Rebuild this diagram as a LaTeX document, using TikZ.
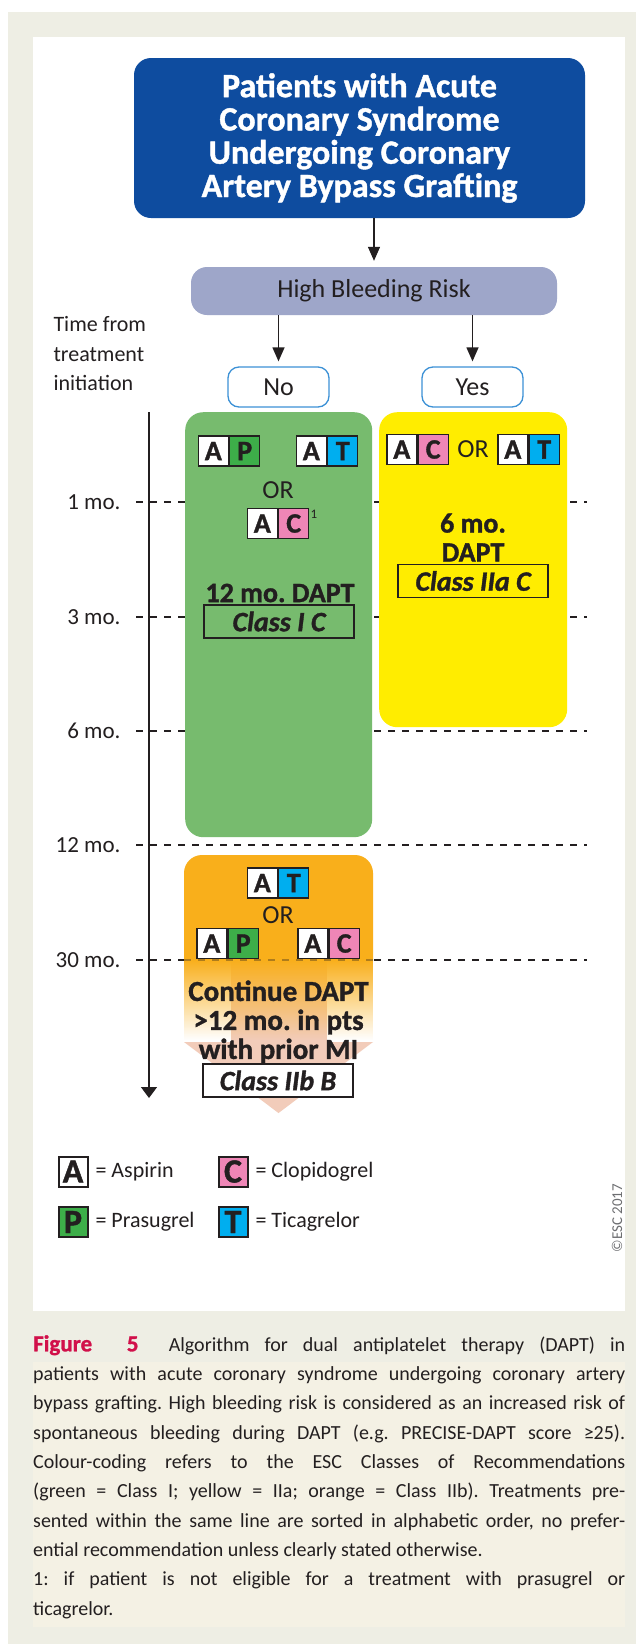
\documentclass[tikz,border=0pt]{standalone}
\usepackage{fontspec}
\setmainfont{Carlito}[BoldFeatures={FakeBold=1.2}, BoldItalicFeatures={FakeBold=1.2}]
\usetikzlibrary{arrows.meta,fadings}
\definecolor{bgbeige}{HTML}{EEEEE4}
\definecolor{capband}{HTML}{F4F1E4}
\definecolor{titleblue}{HTML}{0E4C9F}
\definecolor{hbrc}{HTML}{9EA6C9}
\definecolor{yesno}{HTML}{3C91D6}
\definecolor{classI}{HTML}{77BB6E}
\definecolor{classIIa}{HTML}{FFED00}
\definecolor{classIIb}{HTML}{F9AF1B}
\definecolor{salmon}{HTML}{F2CCBA}
\definecolor{pcol}{HTML}{3DAE49}
\definecolor{tcol}{HTML}{00AEEF}
\definecolor{ccol}{HTML}{EF86B6}
\definecolor{ink}{HTML}{231F20}
\definecolor{figred}{HTML}{D1104A}
\definecolor{esc}{HTML}{6D6E71}
\newcommand{\fsz}[2]{\fontsize{#1pt}{#2pt}\selectfont}
\tikzfading[name=orangefade, top color=transparent!0, bottom color=transparent!100]
\newcommand{\drugpair}[5]{%
  \node[cell, fill=white, anchor=east] (#1a) at (#2,#3) {A};
  \node[cell, fill=#5, anchor=west] (#1b) at (#2,#3) {#4};}
\frenchspacing
\begin{document}
\begin{tikzpicture}[x=1pt,y=-1pt,
  every node/.style={text=ink},
  cell/.style={draw=ink, line width=1.4pt, minimum width=30pt, minimum height=30pt, inner sep=0pt, font=\fsz{28}{28}\bfseries},
  legcell/.style={draw=ink, line width=2pt, minimum width=29pt, minimum height=30pt, inner sep=0pt, font=\fsz{34}{34}\bfseries},
  arr/.style={draw=ink, line width=1.3pt, -{Triangle[length=14pt,width=12pt]}},
  axisarr/.style={draw=ink, line width=1.3pt, -{Triangle[length=11pt,width=16pt]}},
  dashline/.style={draw=ink, line width=1.2pt, dash pattern=on 7pt off 7pt},
  classbox/.style={draw=ink, line width=1.3pt, minimum width=150pt, minimum height=33pt, inner sep=0pt, font=\fsz{28}{28}\bfseries\itshape},
  bigtxt/.style={font=\fsz{28}{29}\bfseries, align=center},
  ortxt/.style={font=\fsz{26}{26}},
  timelbl/.style={anchor=east, font=\fsz{23}{23}},
  legtxt/.style={anchor=west, font=\fsz{22}{22}},
  yesnobox/.style={draw=yesno, fill=white, line width=1.3pt, rounded corners=11pt, minimum width=101pt, minimum height=40pt, inner sep=0pt, font=\fsz{26}{26}}
]
\useasboundingbox (0,0) rectangle (636,1644);
% backgrounds
\fill[white] (0,0) rectangle (636,1644);
\fill[bgbeige] (8,12) rectangle (636,1644);
\fill[white] (33,37) rectangle (625,1311);
\fill[capband] (33,1362) rectangle (625,1627);

% title and decision
\node[fill=titleblue, rounded corners=17pt, minimum width=451pt, minimum height=160pt, inner sep=0pt,
      text=white, align=center, font=\fsz{34}{33.3}\bfseries] (title) at (359.5,138)
  {Patients with Acute\\Coronary Syndrome\\Undergoing Coronary\\Artery Bypass Grafting};
\node[fill=hbrc, rounded corners=16pt, minimum width=366pt, minimum height=48pt, inner sep=0pt,
      font=\fsz{26}{26}] (hbr) at (374,291) {High Bleeding Risk};
\node[yesnobox] (no) at (278.5,387) {No};
\node[yesnobox] (yes) at (472.5,387) {Yes};
\draw[arr, shorten >=6pt] (title.south -| hbr.north) -- (hbr.north);
\draw[arr, shorten >=5pt] (hbr.south -| no.north) -- (no.north);
\draw[arr, shorten >=5pt] (hbr.south -| yes.north) -- (yes.north);

% time axis
\node[anchor=west, align=left, font=\fsz{22}{29.5}] (timehdr) at (50,354) {Time from\\treatment\\initiation};
\foreach \lab/\yy/\nm in {1 mo./502/m1, 3 mo./617/m3, 6 mo./731/m6, 12 mo./845/m12, 30 mo./960/m30}{
  \node[timelbl] (\nm) at (124,\yy) {\lab};
  \coordinate (\nm l) at (136,\yy);
  \coordinate (\nm r) at (587,\yy);
  \draw[dashline] (\nm l) -- (\nm r);
}
\coordinate (axtop) at (149,412);
\coordinate (axbot) at (149,1098);
\draw[axisarr] (axtop) -- (axbot);

% green (Class I) column
\node[fill=classI, rounded corners=18pt, minimum width=187pt, minimum height=425pt, inner sep=0pt, anchor=north west] (green) at (185,412) {};
\drugpair{gAP}{229}{451}{P}{pcol}
\drugpair{gAT}{327}{451}{T}{tcol}
\node[ortxt] (gor) at (278,490) {OR};
\drugpair{gAC}{278}{523.5}{C}{ccol}
\node[font=\fsz{13}{13}] (sup1) at (314,514) {1};
\node[bigtxt] (g12) at (280,593) {12 mo. DAPT};
\node[classbox] (clsI) at (279,621.5) {Class I C};

% yellow (Class IIa) column
\node[fill=classIIa, rounded corners=18pt, minimum width=188pt, minimum height=315pt, inner sep=0pt, anchor=north west] (yellow) at (379,412) {};
\drugpair{yAC}{417.5}{449.5}{C}{ccol}
\node[ortxt] (yor) at (473,449) {OR};
\drugpair{yAT}{528.5}{449.5}{T}{tcol}
\node[bigtxt] (y6) at (473,537.5) {6 mo.\\DAPT};
\node[classbox] (clsIIa) at (473,581) {Class IIa C};

% orange (Class IIb) column with arrow
\fill[salmon] (231,918) rectangle (327,1043);
\fill[salmon] (184,1042) -- (373,1042) -- (278.5,1113) -- cycle;
\begin{scope}
  \clip (184,855) rectangle (373,960);
  \fill[classIIb, rounded corners=18pt] (184,855) rectangle (373,1000);
\end{scope}
\fill[classIIb, path fading=orangefade] (184,959.5) rectangle (373,1040);
\draw[dashline, opacity=0.35] (m30l -| 184,0) -- (m30r -| 373,0);
\drugpair{oAT}{278}{883}{T}{tcol}
\node[ortxt] (oor) at (278,915) {OR};
\drugpair{oAP}{227.5}{943.5}{P}{pcol}
\drugpair{oAC}{328.5}{943.5}{C}{ccol}
\node[bigtxt, font=\fsz{29}{29}\bfseries] (ocont) at (278.5,1022) {Continue DAPT\\>12 mo. in pts\\with prior MI};
\node[classbox, fill=white] (clsIIb) at (278,1080.5) {Class IIb B};

% legend
\node[legcell, fill=white] (lA) at (73,1171.5) {A};
\node[legtxt] (lAt) at (92,1172) {= Aspirin};
\node[legcell, fill=ccol] (lC) at (233,1171.5) {C};
\node[legtxt] (lCt) at (252,1172) {= Clopidogrel};
\node[legcell, fill=pcol] (lP) at (73,1222) {P};
\node[legtxt] (lPt) at (92,1222) {= Prasugrel};
\node[legcell, fill=tcol] (lT) at (233,1222) {T};
\node[legtxt] (lTt) at (252,1222) {= Ticagrelor};
\node[rotate=90, font=\fsz{15}{15}, text=esc] (copy) at (617,1218) {©ESC 2017};

% caption
\node[anchor=north west, text width=592pt, align=justify, inner sep=0pt, font=\fsz{20}{29.3}] (caption) at (33,1335)
{\noindent{\color{figred}\fsz{23}{29.3}\bfseries Figure\ \ 5}\ \ Algorithm for dual antiplatelet therapy (DAPT) in\linebreak
patients with acute coronary syndrome undergoing coronary artery\linebreak
bypass grafting. High bleeding risk is considered as an increased risk of\linebreak
spontaneous bleeding during DAPT (e.g. PRECISE-DAPT score ≥25).\linebreak
Colour-coding refers to the ESC Classes of Recommendations\linebreak
(green = Class I; yellow = IIa; orange = Class IIb). Treatments pre-\linebreak
sented within the same line are sorted in alphabetic order, no prefer-\linebreak
ential recommendation unless clearly stated otherwise.\par
\noindent 1: if patient is not eligible for a treatment with prasugrel or\linebreak
ticagrelor.};
\end{tikzpicture}
\end{document}
